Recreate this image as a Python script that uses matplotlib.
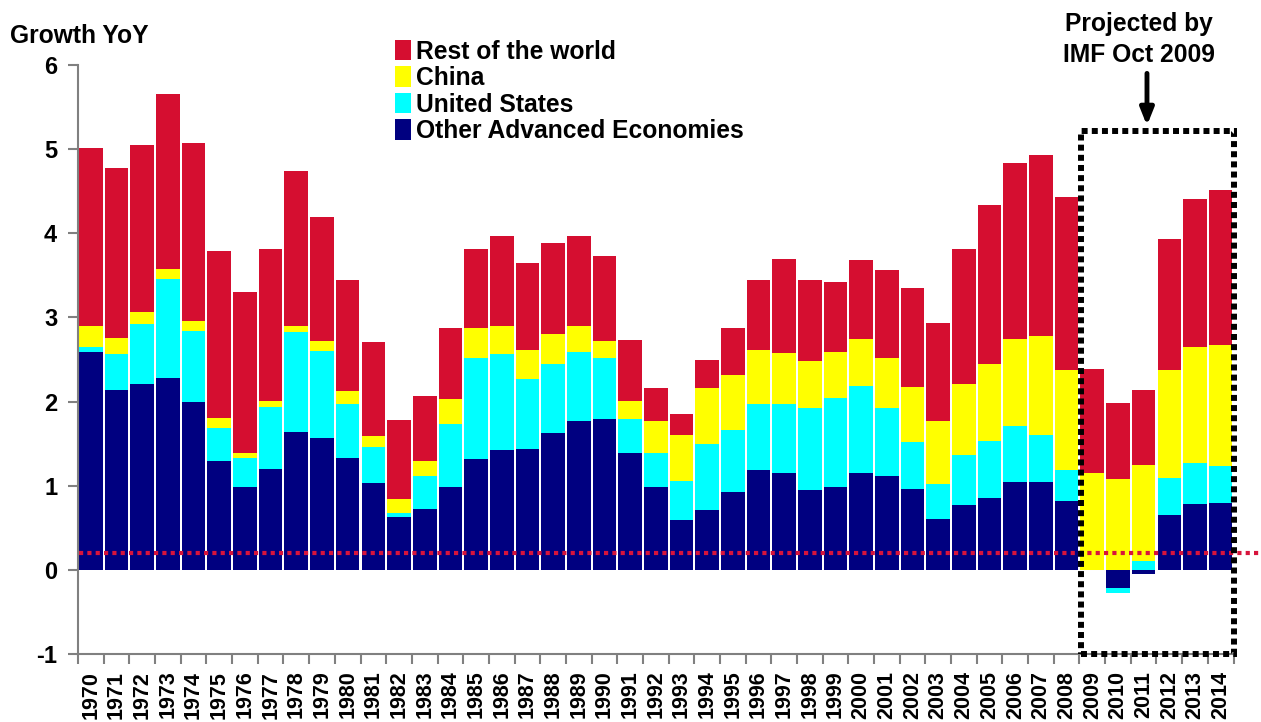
import numpy as np
import matplotlib
matplotlib.use("Agg")
import matplotlib.pyplot as plt
from matplotlib.patches import Rectangle, Patch

plt.rcParams['font.family'] = ['Liberation Sans', 'DejaVu Sans']
plt.rcParams['font.weight'] = 'bold'
plt.rcParams['axes.unicode_minus'] = False

years = list(range(1970, 2015))

# contributions to world growth, percentage points
other_adv = [2.59, 2.14, 2.21, 2.28, 1.99, 1.29, 0.98, 1.20, 1.64, 1.57,
             1.33, 1.03, 0.63, 0.72, 0.99, 1.32, 1.42, 1.44, 1.63, 1.77,
             1.79, 1.39, 0.99, 0.59, 0.71, 0.92, 1.19, 1.15, 0.95, 0.98,
             1.15, 1.12, 0.96, 0.61, 0.77, 0.85, 1.04, 1.04, 0.82, 0.00,
             -0.21, -0.05, 0.65, 0.78, 0.80]
united_states = [0.06, 0.42, 0.71, 1.18, 0.85, 0.39, 0.35, 0.73, 1.19, 1.03,
                 0.64, 0.43, 0.04, 0.39, 0.74, 1.20, 1.14, 0.83, 0.82, 0.82,
                 0.73, 0.40, 0.40, 0.46, 0.78, 0.74, 0.78, 0.82, 0.97, 1.06,
                 1.03, 0.80, 0.56, 0.41, 0.59, 0.68, 0.67, 0.56, 0.37, 0.00,
                 -0.06, 0.10, 0.44, 0.49, 0.43]
china = [0.25, 0.20, 0.14, 0.11, 0.12, 0.12, 0.06, 0.08, 0.07, 0.12,
         0.16, 0.13, 0.17, 0.18, 0.30, 0.35, 0.34, 0.34, 0.35, 0.31,
         0.20, 0.22, 0.38, 0.55, 0.67, 0.65, 0.64, 0.61, 0.56, 0.55,
         0.56, 0.60, 0.65, 0.75, 0.85, 0.92, 1.03, 1.18, 1.19, 1.15,
         1.08, 1.15, 1.29, 1.38, 1.44]
rest_of_world = [2.11, 2.02, 1.99, 2.09, 2.11, 1.99, 1.91, 1.80, 1.84, 1.47,
                 1.32, 1.12, 0.94, 0.78, 0.84, 0.94, 1.07, 1.04, 1.08, 1.07,
                 1.01, 0.72, 0.39, 0.25, 0.33, 0.57, 0.84, 1.11, 0.97, 0.83,
                 0.94, 1.04, 1.18, 1.16, 1.60, 1.89, 2.10, 2.15, 2.05, 1.24,
                 0.90, 0.89, 1.55, 1.76, 1.85]

trend_level = 0.2
first_projected = 2009

series = [
    ("Other Advanced Economies", other_adv, "#000080"),
    ("United States", united_states, "#00FFFF"),
    ("China", china, "#FFFF00"),
    ("Rest of the world", rest_of_world, "#D50E30"),
]

big = 17.7

fig = plt.figure(figsize=(12.61, 7.22), dpi=100)
ax = fig.add_axes([0.0619, 0.0942, 0.9163, 0.8158])

x = np.arange(len(years))
pos_base = np.zeros(len(years))
neg_base = np.zeros(len(years))
for name, vals, col in series:
    v = np.array(vals)
    bottom = np.where(v >= 0, pos_base, neg_base)
    ax.bar(x, v, bottom=bottom, width=0.92, color=col, edgecolor='none', zorder=2)
    pos_base = pos_base + np.clip(v, 0, None)
    neg_base = neg_base + np.clip(v, None, 0)

ax.set_xlim(-0.5, len(years) - 0.5)
ax.set_ylim(-1, 6)
ax.set_yticks(range(-1, 7))
ax.tick_params(axis='y', labelsize=17, length=7, width=1.5, color='#808080', pad=8)

ax.set_xticks(x)
ax.set_xticklabels([str(y) for y in years], rotation=90, fontsize=15.5)
ax.set_xticks(np.arange(-0.5, len(years)), minor=True)
ax.tick_params(axis='x', which='major', length=0, pad=12)
ax.tick_params(axis='x', which='minor', length=7, width=1.5, color='#808080')

for s in ['top', 'right']:
    ax.spines[s].set_visible(False)
for s in ['left', 'bottom']:
    ax.spines[s].set_color('#808080')
    ax.spines[s].set_linewidth(1.5)

# red dotted reference line
ax.plot([-0.45, len(years) + 0.95], [trend_level, trend_level], color='#D7143C',
        linewidth=3, linestyle=(0, (1, 1)), clip_on=False, zorder=3)

# projection box
i0 = years.index(first_projected)
box = Rectangle((i0 - 0.45, -1.0), len(years) - 0.5 - (i0 - 0.45), 6.21,
                fill=False, edgecolor='black', linewidth=4.3,
                linestyle=(0, (1, 0.7)), clip_on=False, zorder=4)
ax.add_patch(box)

ax.annotate("", xy=(41.13, 5.28), xytext=(41.13, 5.90),
            arrowprops=dict(arrowstyle='-|>,head_width=0.4,head_length=1.0',
                            color='black', lw=3.5, shrinkA=0, shrinkB=0),
            annotation_clip=False)
ax.text(40.8, 5.98, "Projected by\nIMF Oct 2009", ha='center', va='bottom',
        fontsize=big, linespacing=1.35, clip_on=False)

fig.text(0.008, 0.95, "Growth YoY", fontsize=big, va='center', ha='left')

handles = [Patch(facecolor=c, edgecolor='none') for _, _, c in series[::-1]]
labels = [n for n, _, _ in series[::-1]]
fig.legend(handles, labels, loc='upper left', bbox_to_anchor=(0.3132, 0.945),
           frameon=False, fontsize=big, handlelength=0.66, handleheight=0.9,
           handletextpad=0.18, labelspacing=0.1, borderpad=0, borderaxespad=0)

fig.savefig("out.png", dpi=100)
